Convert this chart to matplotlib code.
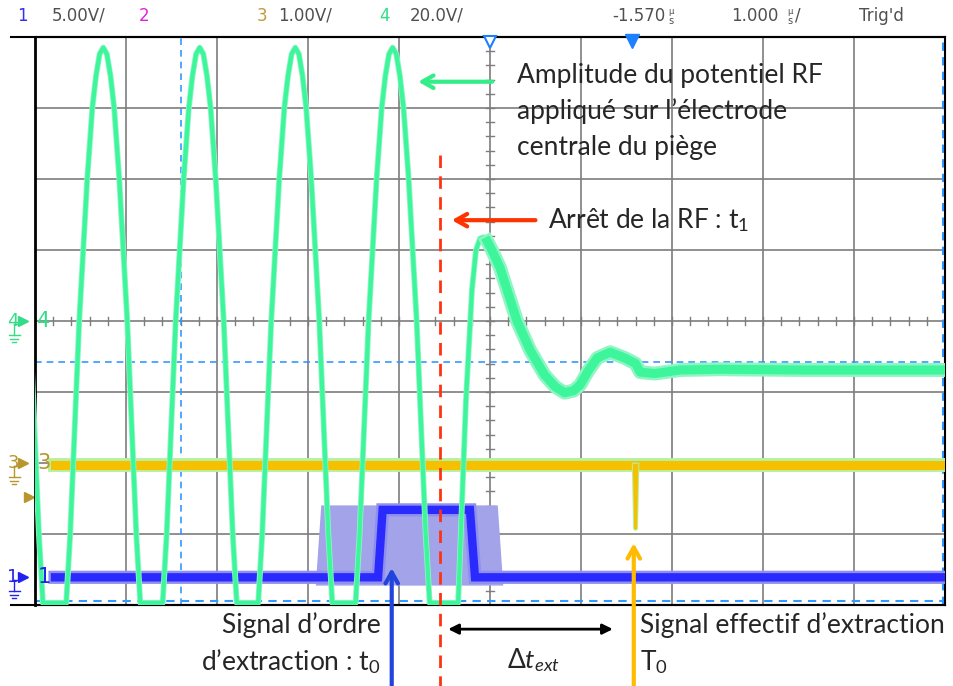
import matplotlib.pyplot as plt
import numpy as np

plt.rcParams['font.family'] = ['Lato', 'DejaVu Sans']
plt.rcParams['mathtext.fontset'] = 'custom'
plt.rcParams['mathtext.rm'] = 'Lato'
plt.rcParams['mathtext.it'] = 'Lato:italic'

W, H = 954, 686

#----------------------------------------------------------------------------#
#------------------------------ Données -------------------------------------#
#----------------------------------------------------------------------------#
# x : temps par rapport au centre de l'écran (µs, 1 µs/div)
# y : divisions verticales de l'écran (8 div)

# voie 4 : RF sur l'électrode centrale (sommets + forme d'un sommet)
rf_peaks = [-5.32, -4.25, -3.19, -2.14, -1.07]
rf_dt = [0.0, 0.04, 0.08, 0.12, 0.176, 0.22, 0.264, 0.297, 0.33, 0.363, 0.407]
rf_v = [3.85, 3.76, 3.45, 3.00, 2.00, 1.00, 0.00, -1.00, -2.00, -3.00, -3.97]
# après l'arrêt de la RF
rf_tail_t = [-0.35, -0.264, -0.198, -0.154, -0.11, -0.07, -0.03, 0.02, 0.11, 0.297, 0.44,
             0.60, 0.72, 0.82, 0.92, 0.99, 1.08, 1.18, 1.32, 1.48, 1.60, 1.65, 1.81, 2.09, 2.53, 3.41, 5.0]
rf_tail_v = [-3.97, -1.11, 0.44, 1.00, 1.16, 1.18, 1.12, 1.00, 0.75, 0.00, -0.41,
             -0.76, -0.93, -1.01, -0.98, -0.90, -0.70, -0.52, -0.44, -0.52, -0.60, -0.72, -0.74, -0.69, -0.68, -0.69, -0.69]

# voie 1 : signal d'ordre d'extraction
ch1_t = [-4.78, -1.23, -1.18, -0.22, -0.165, 5.0]
ch1_v = [-3.61, -3.61, -2.66, -2.66, -3.61, -3.61]
ch1_env_t = [-1.92, -1.86, 0.08, 0.14]
ch1_env_v = [-3.72, -2.59, -2.59, -3.72]

# voie 3 : signal effectif d'extraction
ch3_t = [-4.78, 1.585, 1.60, 1.615, 5.0]
ch3_v = [-2.03, -2.03, -2.92, -2.03, -2.03]

# curseurs et repères
cursor_t = -3.40
cursor_v = -0.58
t1 = -0.55
t0 = -1.08
T0 = 1.58

# en-tête de l'oscilloscope
header = [('1', 17, '#3333ee'), ('5.00V/', 52, '#505050'), ('2', 139, '#dd22dd'),
          ('3', 257, '#c09a3a'), ('1.00V/', 278, '#505050'), ('4', 379, '#33dd88'),
          ('20.0V/', 410, '#505050'), ('-1.570', 612, '#505050'),
          ('1.000', 731, '#505050'), ('Trig\'d', 859, '#505050')]

#----------------------------------------------------------------------------#
#------------------------------ Script --------------------------------------#
#----------------------------------------------------------------------------#

def fx(x):
    return x / W

def fy(y):
    return 1 - y / H

fig = plt.figure(figsize=(W / 100, H / 100), dpi=100)
ax = fig.add_axes([fx(35), 1 - 605 / H, 910 / W, 568 / H])
ax.set_xlim(-5, 5)
ax.set_ylim(-4, 4)
ax.set_xticks(np.arange(-5, 6))
ax.set_yticks(np.arange(-4, 5))
ax.tick_params(length=0, labelbottom=False, labelleft=False)
ax.grid(True, color='#7d7d7d', lw=1.2)
for s in ax.spines.values():
    s.set_color('black')
    s.set_linewidth(1.5)
ax.spines['left'].set_linewidth(2)

# graduations des axes centraux
for t in np.arange(-5, 5.01, 0.2):
    ax.plot([t, t], [-0.06, 0.06], color='#7d7d7d', lw=1)
for v in np.arange(-4, 4.01, 0.2):
    ax.plot([-0.045, 0.045], [v, v], color='#7d7d7d', lw=1)

# bords haut et bas prolongés à gauche
ax.plot([-5.26, 5], [4, 4], color='black', lw=1.5, clip_on=False)
ax.plot([-5.26, 5], [-4, -4], color='black', lw=1.5, clip_on=False)

# curseurs
ax.axvline(cursor_t, color='#3399ff', lw=1.2, ls=(0, (4, 3)))
ax.axhline(cursor_v, color='#3399ff', lw=1.2, ls=(0, (4, 3)))
ax.plot([-5, 5], [-3.95, -3.95], color='#3399ff', lw=1.5, ls=(0, (4, 3)))
ax.plot([4.98, 4.98], [-4, 4], color='#3399ff', lw=1.5, ls=(0, (4, 3)))

# voie 1
ax.fill_between(ch1_env_t, ch1_env_v, -3.72, color='#a3a3ea', lw=0, zorder=3)
ax.plot(ch1_t, ch1_v, color='#8f8ff0', lw=9.5, zorder=4, solid_joinstyle='miter')
ax.plot(ch1_t, ch1_v, color='#2a2aff', lw=6, zorder=4, solid_joinstyle='miter')

# voie 3 (le creux est une trace fine)
ax.plot([ch3_t[0], ch3_t[-1]], [ch3_v[0], ch3_v[-1]], color='#b8f0a0', lw=10, zorder=4)
ax.plot([ch3_t[0], ch3_t[-1]], [ch3_v[0], ch3_v[-1]], color='#f5c000', lw=6.5, zorder=4)
ax.plot(ch3_t[1:4], ch3_v[1:4], color='#b8f0a0', lw=3.5, zorder=4)
ax.plot(ch3_t[1:4], ch3_v[1:4], color='#f5c000', lw=2, zorder=4)

# voie 4
rf_t, rf_y = [], []
for p in rf_peaks:
    rf_t += [p - d for d in rf_dt[::-1]] + [p + d for d in rf_dt[1:]]
    rf_y += rf_v[::-1] + rf_v[1:]
ax.plot(rf_t + rf_tail_t, rf_y + rf_tail_v, color='#8ff5c4', lw=4.2, zorder=5)
ax.plot(rf_t + rf_tail_t, rf_y + rf_tail_v, color='#3df59a', lw=3, zorder=5)
ax.plot(rf_tail_t[6:], rf_tail_v[6:], color='#8ff5c4', lw=10, zorder=5)
ax.plot(rf_tail_t[6:], rf_tail_v[6:], color='#3df59a', lw=6.5, zorder=5)

# repères en haut de l'écran
ax.plot([0], [3.93], marker='v', ms=9, mfc='white', mec='#1e7fff', mew=1.5, clip_on=False, zorder=6)
ax.plot([1.56], [3.95], marker='v', ms=10, color='#1e7fff', clip_on=False, zorder=6)

# repères des voies à gauche
def ground(y, color, label):
    yv = (321 - y) / 71
    fig.text(fx(13), fy(y), label, color=color, size=13, ha='center', va='center',
             family='DejaVu Sans')
    ax.plot([-5.13], [yv], marker='>', ms=7, color=color, clip_on=False)
    ax.plot([-5.23, -5.17], [yv - 0.04, yv - 0.04], color=color, lw=1, clip_on=False)
    ax.plot([-5.23, -5.23], [yv - 0.04, yv - 0.2], color=color, lw=1, clip_on=False)
    for k, w in enumerate([0.06, 0.04, 0.02]):
        yy = yv - 0.2 - 0.05 * k
        ax.plot([-5.23 - w, -5.23 + w], [yy, yy], color=color, lw=1, clip_on=False)
    fig.text(fx(44), fy(y), label, color=color, size=15, ha='center', va='center',
             family='DejaVu Sans')

ground(321, '#33dd88', '4')
ground(463, '#b8962e', '3')
ground(577, '#2222ee', '1')
ax.plot([-5.07], [(321 - 497) / 71], marker='>', ms=7, color='#b8962e', clip_on=False)

# en-tête
for txt, x, col in header:
    fig.text(fx(x), fy(16), txt, color=col, size=12, va='center', family='DejaVu Sans')
for x in [668, 787]:
    fig.text(fx(x), fy(11), 'µ', color='#505050', size=6, va='center', family='DejaVu Sans')
    fig.text(fx(x), fy(21), 's', color='#505050', size=7, va='center', family='DejaVu Sans')
fig.text(fx(795), fy(16), '/', color='#505050', size=12, va='center', family='DejaVu Sans')

# annotations
txt_col = '#262626'
fs = 19
for i, line in enumerate(['Amplitude du potentiel RF', 'appliqué sur l’électrode',
                          'centrale du piège']):
    fig.text(fx(517), fy(75 + 36 * i), line, size=fs, color=txt_col, va='center')
ax.annotate('', xy=(-0.82, 3.37), xytext=(0.055, 3.37), zorder=8,
            arrowprops=dict(arrowstyle='->,head_length=0.8,head_width=0.45',
                            color='#33ee88', lw=3))

fig.text(fx(548), fy(220), r'Arrêt de la RF : t$_{\mathregular{1}}$', size=fs,
         color=txt_col, va='center')
ax.annotate('', xy=(-0.45, 1.42), xytext=(0.53, 1.42), zorder=8,
            arrowprops=dict(arrowstyle='->,head_length=0.8,head_width=0.45',
                            color='#ff3300', lw=3))
ax.plot([t1, t1], [2.34, -5.14], color='#ff3311', lw=2, ls=(0, (4.5, 3)),
        clip_on=False, zorder=8)

fig.text(fx(381), fy(625), 'Signal d’ordre', size=fs, color=txt_col, va='center', ha='right')
fig.text(fx(381), fy(662), r'd’extraction : t$_{\mathregular{0}}$', size=fs, color=txt_col,
         va='center', ha='right')
ax.annotate('', xy=(t0, -3.48), xytext=(t0, -5.14), zorder=8, annotation_clip=False,
            arrowprops=dict(arrowstyle='->,head_length=0.8,head_width=0.45',
                            color='#2244dd', lw=3, shrinkA=0, shrinkB=0))

fig.text(fx(640), fy(625), 'Signal effectif d’extraction', size=fs, color=txt_col, va='center')
fig.text(fx(640), fy(662), r'T$_{\mathregular{0}}$', size=fs, color=txt_col, va='center')
ax.annotate('', xy=(T0, -3.13), xytext=(T0, -5.14), zorder=8, annotation_clip=False,
            arrowprops=dict(arrowstyle='->,head_length=0.8,head_width=0.45',
                            color='#ffbb00', lw=3, shrinkA=0, shrinkB=0))

ax.annotate('', xy=(-0.46, -4.34), xytext=(1.35, -4.34), annotation_clip=False,
            arrowprops=dict(arrowstyle='<|-|>,head_length=0.6,head_width=0.3',
                            color='black', lw=2, shrinkA=0, shrinkB=0))
fig.text(fx(533), fy(660), r'$\mathit{\Delta t}_{\mathit{ext}}$', size=fs,
         color=txt_col, va='center', ha='center')

plt.savefig('out.png', dpi=100)
plt.close()
